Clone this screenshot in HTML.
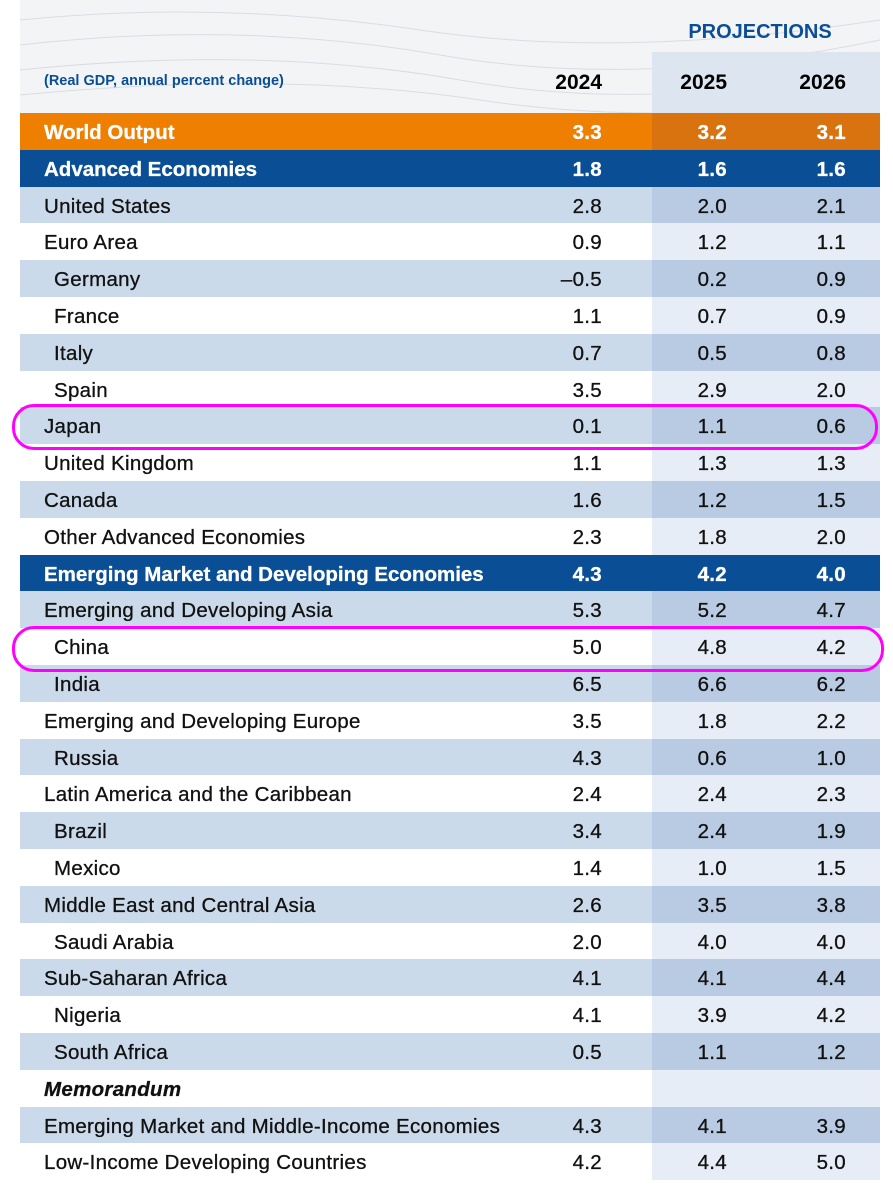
<!DOCTYPE html>
<html><head><meta charset="utf-8">
<style>
body{margin:0;width:893px;height:1200px;background:#fff;font-family:"Liberation Sans",sans-serif;position:relative;overflow:hidden}
.abs{position:absolute}
.row{position:absolute;left:20px;width:860px;height:37px}
.cell{position:absolute;top:1px;height:37px;line-height:37px;font-size:20.5px;letter-spacing:0.3px;color:#111;-webkit-text-stroke:0.3px currentColor}
.lbl{white-space:nowrap}
.num{text-align:right;width:80px}
</style></head><body>
<div class="abs" style="left:20px;top:0;width:860px;height:113px;background:#f3f4f6"></div>
<svg class="abs" style="left:20px;top:0" width="860" height="113">
<g stroke="#d9dde3" stroke-width="1" fill="none">
<path d="M0 20 Q200 0 400 30 T860 20"/><path d="M0 45 Q220 20 420 55 T860 40"/><path d="M0 70 Q240 45 440 80 T860 65"/><path d="M0 95 Q260 70 460 100 T860 90"/>
</g></svg>
<div class="abs" style="left:652px;top:52px;width:228px;height:61px;background:#dde6f0"></div>
<div class="abs" style="left:660px;top:21px;width:200px;text-align:center;font-size:20px;color:#0a4e96;font-weight:bold">PROJECTIONS</div>
<div class="abs" style="left:44px;top:73px;font-size:14.5px;color:#0a4e96;font-weight:bold">(Real GDP, annual percent change)</div>
<div class="abs" style="left:522px;top:71px;width:80px;text-align:right;font-size:21px;font-weight:bold">2024</div>
<div class="abs" style="left:647px;top:71px;width:80px;text-align:right;font-size:21px;font-weight:bold">2025</div>
<div class="abs" style="left:766px;top:71px;width:80px;text-align:right;font-size:21px;font-weight:bold">2026</div>
<div id="tbl"></div>
<div class="abs" style="left:12px;top:404px;width:860px;height:40px;border:3px solid #ff00ff;border-radius:22px"></div>
<div class="abs" style="left:12px;top:626px;width:866px;height:40px;border:3px solid #ff00ff;border-radius:22px"></div>
<script>
const labels=["World Output","Advanced Economies","United States","Euro Area","Germany","France","Italy","Spain","Japan","United Kingdom","Canada","Other Advanced Economies","Emerging Market and Developing Economies","Emerging and Developing Asia","China","India","Emerging and Developing Europe","Russia","Latin America and the Caribbean","Brazil","Mexico","Middle East and Central Asia","Saudi Arabia","Sub-Saharan Africa","Nigeria","South Africa","Memorandum","Emerging Market and Middle-Income Economies","Low-Income Developing Countries"];
const v2024=["3.3","1.8","2.8","0.9","–0.5","1.1","0.7","3.5","0.1","1.1","1.6","2.3","4.3","5.3","5.0","6.5","3.5","4.3","2.4","3.4","1.4","2.6","2.0","4.1","4.1","0.5","","4.3","4.2"];
const v2025=["3.2","1.6","2.0","1.2","0.2","0.7","0.5","2.9","1.1","1.3","1.2","1.8","4.2","5.2","4.8","6.6","1.8","0.6","2.4","2.4","1.0","3.5","4.0","4.1","3.9","1.1","","4.1","4.4"];
const v2026=["3.1","1.6","2.1","1.1","0.9","0.9","0.8","2.0","0.6","1.3","1.5","2.0","4.0","4.7","4.2","6.2","2.2","1.0","2.3","1.9","1.5","3.8","4.0","4.4","4.2","1.2","","3.9","5.0"];
const indented=["Germany","France","Italy","Spain","China","India","Russia","Brazil","Mexico","Saudi Arabia","Nigeria","South Africa"];
const tbl=document.getElementById('tbl');
const top0=113, rh=36.8;
labels.forEach((l,i)=>{
  let bg,pbg,col='#111',bold=false;
  const shaded = i<12 ? (i%2===0) : (i%2===1);
  if(i===0){bg='#ee7f00';pbg='#d9730f';col='#fff';bold=true;}
  else if(l==="Advanced Economies"||l==="Emerging Market and Developing Economies"){bg='#0a4e96';pbg='#0a4e96';col='#fff';bold=true;}
  else if(shaded){bg='#cbdaea';pbg='#b8cbe3';}
  else {bg='#ffffff';pbg='#e6edf6';}
  const r=document.createElement('div');
  r.className='row';
  
  
  r.style.top=(top0+i*rh)+'px';r.style.background=bg;
  const p=document.createElement('div');
  p.style.cssText='position:absolute;left:632px;top:0;width:228px;height:37px;background:'+pbg;
  
  
  r.appendChild(p);
  const lb=document.createElement('div');
  lb.className='cell lbl';
  
  
  lb.textContent=l;
  lb.style.left=(indented.includes(l)?34:24)+'px';lb.style.color=col;
  if(bold){lb.style.fontWeight='bold';lb.style.letterSpacing='0px';}
  if(l==="Memorandum"){lb.style.fontWeight='bold';lb.style.fontStyle='italic';}
  r.appendChild(lb);
  [[v2024,502],[v2025,627],[v2026,746]].forEach(([arr,x],k)=>{
    const c=document.createElement('div');
    c.className='cell num';
    
    
    c.textContent=arr[i];c.style.left=x+'px';c.style.color=col;
    if(bold)c.style.fontWeight='bold';
    r.appendChild(c);
  });
  tbl.appendChild(r);
});
</script>
</body></html>
